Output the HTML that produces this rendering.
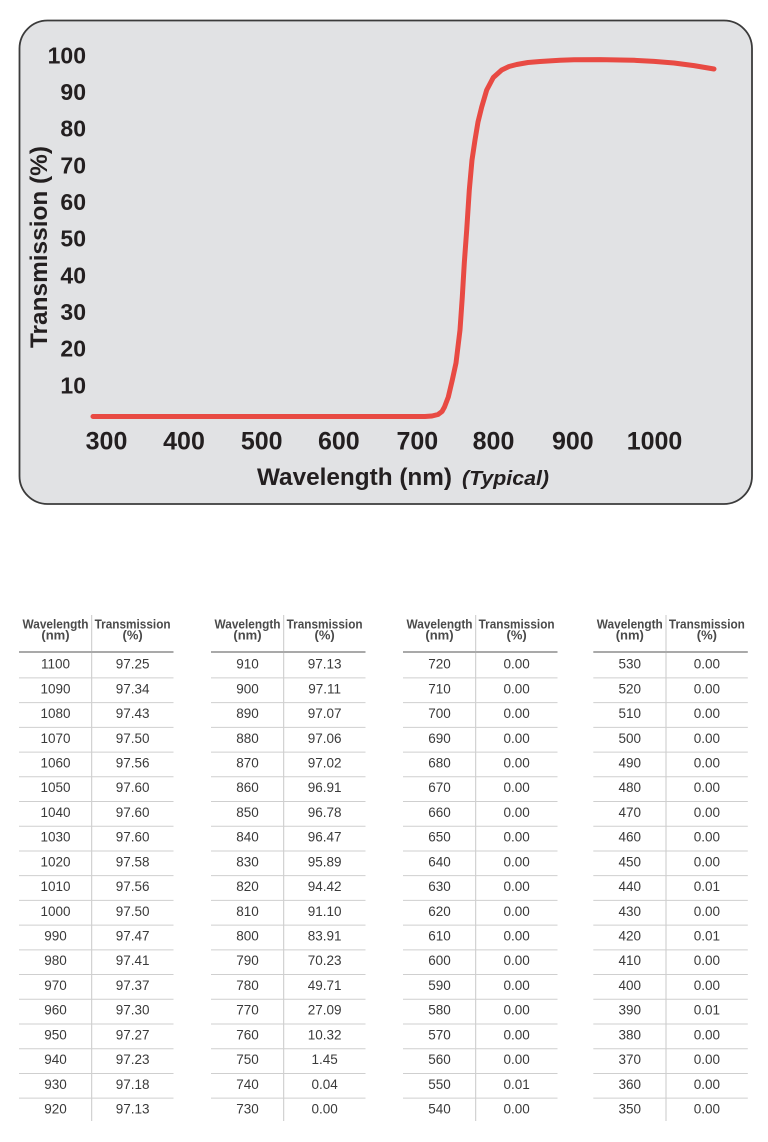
<!DOCTYPE html>
<html>
<head>
<meta charset="utf-8">
<style>
  html,body{margin:0;padding:0;background:#ffffff;}
  body{width:768px;height:1142px;overflow:hidden;}
  svg{display:block;}
  .yl{font-family:"Liberation Sans",Arial,sans-serif;font-weight:bold;font-size:23px;fill:#231f20;text-anchor:end;}
  .xl{font-family:"Liberation Sans",Arial,sans-serif;font-weight:bold;font-size:25px;fill:#231f20;text-anchor:middle;}
  .ttl{font-family:"Liberation Sans",Arial,sans-serif;font-weight:bold;font-size:24px;fill:#231f20;}
  .hd{font-family:"Liberation Sans",Arial,sans-serif;font-weight:bold;font-size:13px;fill:#4a4a4a;text-anchor:middle;}
  .td{font-family:"Liberation Sans",Arial,sans-serif;font-size:13.5px;fill:#3a3a3a;text-anchor:middle;}
</style>
</head>
<body>
<svg width="768" height="1142" viewBox="0 0 768 1142" xmlns="http://www.w3.org/2000/svg">
  <!-- chart box -->
  <rect x="19.5" y="20.5" width="732.5" height="483.5" rx="28" ry="28" fill="#e1e2e4" stroke="#3b3b3b" stroke-width="1.8"/>

  <!-- y tick labels -->
  <text class="yl" x="86" y="63.3">100</text>
  <text class="yl" x="86" y="100">90</text>
  <text class="yl" x="86" y="136.6">80</text>
  <text class="yl" x="86" y="173.3">70</text>
  <text class="yl" x="86" y="210">60</text>
  <text class="yl" x="86" y="246.6">50</text>
  <text class="yl" x="86" y="283.3">40</text>
  <text class="yl" x="86" y="320">30</text>
  <text class="yl" x="86" y="356.6">20</text>
  <text class="yl" x="86" y="393.3">10</text>

  <!-- x tick labels -->
  <text class="xl" x="106.5" y="449.3">300</text>
  <text class="xl" x="184" y="449.3">400</text>
  <text class="xl" x="261.7" y="449.3">500</text>
  <text class="xl" x="338.8" y="449.3">600</text>
  <text class="xl" x="417.3" y="449.3">700</text>
  <text class="xl" x="493.5" y="449.3">800</text>
  <text class="xl" x="572.8" y="449.3">900</text>
  <text class="xl" x="654.5" y="449.3">1000</text>

  <!-- axis titles -->
  <text class="ttl" x="257" y="485" textLength="195" lengthAdjust="spacingAndGlyphs">Wavelength (nm)</text>
  <text x="462" y="485" font-family="Liberation Sans, Arial, sans-serif" font-weight="bold" font-style="italic" font-size="20.5" fill="#231f20" textLength="87" lengthAdjust="spacingAndGlyphs">(Typical)</text>
  <text class="ttl" transform="translate(47,247) rotate(-90)" x="0" y="0" text-anchor="middle" textLength="202" lengthAdjust="spacingAndGlyphs">Transmission (%)</text>

  <!-- curve -->
  <polyline fill="none" stroke="#e84a43" stroke-width="5" stroke-linecap="round" stroke-linejoin="round"
    points="93,416.5 425,416.5 432,416 438,414.5 442,411.5 444.5,407 448.3,397 452.3,380 456,363 460,330 462.3,297 464.3,263 466.7,230 469.3,190 472,160 475,140 478,122 481.7,107 486.7,90 493.3,77.5 501.7,70 509,66.5 516.7,64.5 528,62.5 540,61.5 560,60.3 574,59.8 600,59.6 634,60.3 654,61.4 674,63 694,65.6 714,69"/>

  <!-- tables -->
  <g id="tables">
  </g>
</svg>
<script>
(function(){
  var ns="http://www.w3.org/2000/svg";
  var g=document.getElementById("tables");
  var lefts=[19,211,403,593.3];
  var data=[
    [["1100","97.25"],["1090","97.34"],["1080","97.43"],["1070","97.50"],["1060","97.56"],["1050","97.60"],["1040","97.60"],["1030","97.60"],["1020","97.58"],["1010","97.56"],["1000","97.50"],["990","97.47"],["980","97.41"],["970","97.37"],["960","97.30"],["950","97.27"],["940","97.23"],["930","97.18"],["920","97.13"]],
    [["910","97.13"],["900","97.11"],["890","97.07"],["880","97.06"],["870","97.02"],["860","96.91"],["850","96.78"],["840","96.47"],["830","95.89"],["820","94.42"],["810","91.10"],["800","83.91"],["790","70.23"],["780","49.71"],["770","27.09"],["760","10.32"],["750","1.45"],["740","0.04"],["730","0.00"]],
    [["720","0.00"],["710","0.00"],["700","0.00"],["690","0.00"],["680","0.00"],["670","0.00"],["660","0.00"],["650","0.00"],["640","0.00"],["630","0.00"],["620","0.00"],["610","0.00"],["600","0.00"],["590","0.00"],["580","0.00"],["570","0.00"],["560","0.00"],["550","0.01"],["540","0.00"]],
    [["530","0.00"],["520","0.00"],["510","0.00"],["500","0.00"],["490","0.00"],["480","0.00"],["470","0.00"],["460","0.00"],["450","0.00"],["440","0.01"],["430","0.00"],["420","0.01"],["410","0.00"],["400","0.00"],["390","0.01"],["380","0.00"],["370","0.00"],["360","0.00"],["350","0.00"]]
  ];
  function el(name,attrs,txt){
    var e=document.createElementNS(ns,name);
    for(var k in attrs){e.setAttribute(k,attrs[k]);}
    if(txt!==undefined){e.textContent=txt;}
    g.appendChild(e);return e;
  }
  var rh=24.72;
  for(var t=0;t<4;t++){
    var L=lefts[t], W=154.5, D=L+72.7;
    var c1=L+36.5, c2=(D+L+W)/2;
    el("line",{x1:D,y1:615,x2:D,y2:1121,stroke:"#c8c8c8","stroke-width":"1"});
    el("line",{x1:L,y1:652,x2:L+W,y2:652,stroke:"#a9a9a9","stroke-width":"2"});
    for(var i=1;i<19;i++){
      var y=653.2+rh*i;
      el("line",{x1:L,y1:y,x2:L+W,y2:y,stroke:"#cfcfcf","stroke-width":"1"});
    }
    el("text",{"class":"hd",x:c1,y:628.3,textLength:"66",lengthAdjust:"spacingAndGlyphs"},"Wavelength");
    el("text",{"class":"hd",x:c1,y:639.5},"(nm)");
    el("text",{"class":"hd",x:c2,y:628.3,textLength:"76",lengthAdjust:"spacingAndGlyphs"},"Transmission");
    el("text",{"class":"hd",x:c2,y:639.5},"(%)");
    for(var r=0;r<19;r++){
      var by=668.6+rh*r;
      el("text",{"class":"td",x:c1,y:by},data[t][r][0]);
      el("text",{"class":"td",x:c2,y:by},data[t][r][1]);
    }
  }
})();
</script>
</body>
</html>
